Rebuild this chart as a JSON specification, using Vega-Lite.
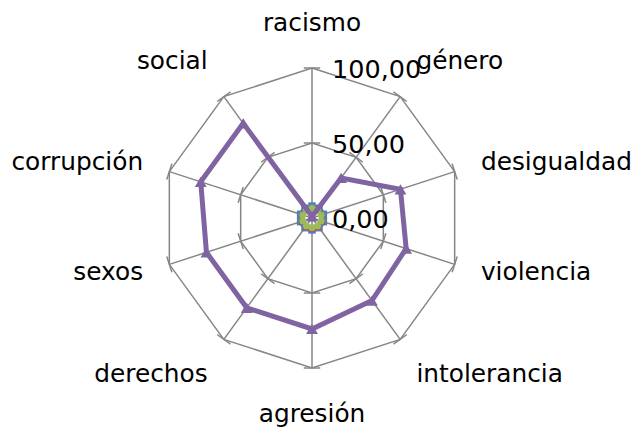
{
  "$schema": "https://vega.github.io/schema/vega-lite/v6.json",
  "width": 635,
  "height": 430,
  "autosize": {"type": "none"},
  "padding": 0,
  "background": "white",
  "config": {"view": {"stroke": null}, "font": "DejaVu Sans"},
  "datasets": {
    "cats": [
      {"idx": 0, "cat": "racismo"},
      {"idx": 1, "cat": "género"},
      {"idx": 2, "cat": "desigualdad"},
      {"idx": 3, "cat": "violencia"},
      {"idx": 4, "cat": "intolerancia"},
      {"idx": 5, "cat": "agresión"},
      {"idx": 6, "cat": "derechos"},
      {"idx": 7, "cat": "sexos"},
      {"idx": 8, "cat": "corrupción"},
      {"idx": 9, "cat": "social"}
    ],
    "ticks": [{"v": 0}, {"v": 50}, {"v": 100}],
    "series": [
      {"serie": "Serie1", "idx": 0, "cat": "racismo", "valor": 8},
      {"serie": "Serie1", "idx": 1, "cat": "género", "valor": 8},
      {"serie": "Serie1", "idx": 2, "cat": "desigualdad", "valor": 8},
      {"serie": "Serie1", "idx": 3, "cat": "violencia", "valor": 8},
      {"serie": "Serie1", "idx": 4, "cat": "intolerancia", "valor": 8},
      {"serie": "Serie1", "idx": 5, "cat": "agresión", "valor": 8},
      {"serie": "Serie1", "idx": 6, "cat": "derechos", "valor": 8},
      {"serie": "Serie1", "idx": 7, "cat": "sexos", "valor": 8},
      {"serie": "Serie1", "idx": 8, "cat": "corrupción", "valor": 8},
      {"serie": "Serie1", "idx": 9, "cat": "social", "valor": 8},
      {"serie": "Serie2", "idx": 0, "cat": "racismo", "valor": 7.5},
      {"serie": "Serie2", "idx": 1, "cat": "género", "valor": 7.5},
      {"serie": "Serie2", "idx": 2, "cat": "desigualdad", "valor": 7.5},
      {"serie": "Serie2", "idx": 3, "cat": "violencia", "valor": 7.5},
      {"serie": "Serie2", "idx": 4, "cat": "intolerancia", "valor": 7.5},
      {"serie": "Serie2", "idx": 5, "cat": "agresión", "valor": 7.5},
      {"serie": "Serie2", "idx": 6, "cat": "derechos", "valor": 7.5},
      {"serie": "Serie2", "idx": 7, "cat": "sexos", "valor": 7.5},
      {"serie": "Serie2", "idx": 8, "cat": "corrupción", "valor": 7.5},
      {"serie": "Serie2", "idx": 9, "cat": "social", "valor": 7.5},
      {"serie": "Serie3", "idx": 0, "cat": "racismo", "valor": 6.5},
      {"serie": "Serie3", "idx": 1, "cat": "género", "valor": 6.5},
      {"serie": "Serie3", "idx": 2, "cat": "desigualdad", "valor": 6.5},
      {"serie": "Serie3", "idx": 3, "cat": "violencia", "valor": 6.5},
      {"serie": "Serie3", "idx": 4, "cat": "intolerancia", "valor": 6.5},
      {"serie": "Serie3", "idx": 5, "cat": "agresión", "valor": 6.5},
      {"serie": "Serie3", "idx": 6, "cat": "derechos", "valor": 6.5},
      {"serie": "Serie3", "idx": 7, "cat": "sexos", "valor": 6.5},
      {"serie": "Serie3", "idx": 8, "cat": "corrupción", "valor": 6.5},
      {"serie": "Serie3", "idx": 9, "cat": "social", "valor": 6.5},
      {"serie": "Serie4", "idx": 0, "cat": "racismo", "valor": 1},
      {"serie": "Serie4", "idx": 1, "cat": "género", "valor": 33},
      {"serie": "Serie4", "idx": 2, "cat": "desigualdad", "valor": 62},
      {"serie": "Serie4", "idx": 3, "cat": "violencia", "valor": 66},
      {"serie": "Serie4", "idx": 4, "cat": "intolerancia", "valor": 68},
      {"serie": "Serie4", "idx": 5, "cat": "agresión", "valor": 74},
      {"serie": "Serie4", "idx": 6, "cat": "derechos", "valor": 74},
      {"serie": "Serie4", "idx": 7, "cat": "sexos", "valor": 74},
      {"serie": "Serie4", "idx": 8, "cat": "corrupción", "valor": 78},
      {"serie": "Serie4", "idx": 9, "cat": "social", "valor": 78}
    ]
  },
  "encoding": {
    "x": {"type": "quantitative", "scale": {"domain": [-208, 215.333], "nice": false, "zero": false}, "axis": null},
    "y": {"type": "quantitative", "scale": {"domain": [-141.333, 145.333], "nice": false, "zero": false}, "axis": null}
  },
  "layer": [
    {
      "data": {"name": "cats"},
      "transform": [
        {"calculate": "datum.idx * PI / 5", "as": "a"},
        {"calculate": "0", "as": "x0"},
        {"calculate": "0", "as": "y0"},
        {"calculate": "100 * sin(datum.a)", "as": "xe"},
        {"calculate": "100 * cos(datum.a)", "as": "ye"}
      ],
      "mark": {"type": "rule", "color": "#868686", "strokeWidth": 1.5},
      "encoding": {
        "x": {"field": "x0", "type": "quantitative"},
        "y": {"field": "y0", "type": "quantitative"},
        "x2": {"field": "xe"},
        "y2": {"field": "ye"}
      }
    },
    {
      "data": {"name": "cats"},
      "transform": [
        {"calculate": "datum.idx * PI / 5", "as": "a"},
        {"calculate": "[50, 100]", "as": "r"},
        {"flatten": ["r"]},
        {"calculate": "datum.r * sin(datum.a)", "as": "px"},
        {"calculate": "datum.r * cos(datum.a)", "as": "py"}
      ],
      "mark": {"type": "line", "color": "#868686", "strokeWidth": 1.5, "interpolate": "linear-closed"},
      "encoding": {
        "x": {"field": "px", "type": "quantitative"},
        "y": {"field": "py", "type": "quantitative"},
        "detail": {"field": "r"},
        "order": {"field": "idx"}
      }
    },
    {
      "data": {"name": "cats"},
      "transform": [
        {"calculate": "datum.idx * PI / 5", "as": "a"},
        {"calculate": "[50, 100]", "as": "r"},
        {"flatten": ["r"]},
        {"calculate": "datum.r * sin(datum.a) + 5.5 * cos(datum.a)", "as": "tx1"},
        {"calculate": "datum.r * cos(datum.a) - 5.5 * sin(datum.a)", "as": "ty1"},
        {"calculate": "datum.r * sin(datum.a) - 5.5 * cos(datum.a)", "as": "tx2"},
        {"calculate": "datum.r * cos(datum.a) + 5.5 * sin(datum.a)", "as": "ty2"}
      ],
      "mark": {"type": "rule", "color": "#868686", "strokeWidth": 1.5},
      "encoding": {
        "x": {"field": "tx1", "type": "quantitative"},
        "y": {"field": "ty1", "type": "quantitative"},
        "x2": {"field": "tx2"},
        "y2": {"field": "ty2"}
      }
    },
    {
      "data": {"name": "series"},
      "transform": [
        {"filter": "datum.serie != 'Serie4'"},
        {"calculate": "datum.idx * PI / 5", "as": "a"},
        {"calculate": "datum.valor * sin(datum.a)", "as": "px"},
        {"calculate": "datum.valor * cos(datum.a)", "as": "py"}
      ],
      "layer": [
        {
          "mark": {"type": "line", "strokeWidth": 5, "interpolate": "linear-closed"},
          "encoding": {
            "x": {"field": "px", "type": "quantitative"},
            "y": {"field": "py", "type": "quantitative"},
            "detail": {"field": "serie"},
            "order": {"field": "idx"},
            "color": {"field": "serie", "type": "nominal", "scale": {"domain": ["Serie1", "Serie2", "Serie3", "Serie4"], "range": ["#4F81BD", "#C0504D", "#9BBB59", "#8064A2"]}, "legend": null}
          }
        },
        {
          "mark": {"type": "point", "filled": true, "opacity": 1},
          "encoding": {
            "x": {"field": "px", "type": "quantitative"},
            "y": {"field": "py", "type": "quantitative"},
            "size": {"field": "serie", "type": "nominal", "scale": {"domain": ["Serie1", "Serie2", "Serie3"], "range": [55, 45, 90]}, "legend": null},
            "shape": {"field": "serie", "type": "nominal", "scale": {"domain": ["Serie1", "Serie2", "Serie3"], "range": ["square", "triangle-up", "circle"]}, "legend": null},
            "color": {"field": "serie", "type": "nominal", "scale": {"domain": ["Serie1", "Serie2", "Serie3", "Serie4"], "range": ["#4F81BD", "#C0504D", "#9BBB59", "#8064A2"]}, "legend": null}
          }
        }
      ]
    },
    {
      "data": {"name": "series"},
      "transform": [
        {"filter": "datum.serie == 'Serie4'"},
        {"calculate": "datum.idx * PI / 5", "as": "a"},
        {"calculate": "datum.valor * sin(datum.a)", "as": "px"},
        {"calculate": "datum.valor * cos(datum.a)", "as": "py"}
      ],
      "layer": [
        {
          "mark": {"type": "line", "strokeWidth": 5, "color": "#8064A2", "interpolate": "linear-closed", "strokeJoin": "miter"},
          "encoding": {
            "x": {"field": "px", "type": "quantitative"},
            "y": {"field": "py", "type": "quantitative"},
            "order": {"field": "idx"}
          }
        },
        {
          "mark": {"type": "point", "shape": "triangle-up", "filled": true, "opacity": 1, "size": 140, "color": "#8064A2"},
          "encoding": {
            "x": {"field": "px", "type": "quantitative"},
            "y": {"field": "py", "type": "quantitative"}
          }
        }
      ]
    },
    {
      "data": {"name": "cats"},
      "transform": [
        {"calculate": "datum.idx * PI / 5", "as": "a"},
        {"calculate": "118.4 * sin(datum.a)", "as": "lx"},
        {"calculate": "118.4 * cos(datum.a)", "as": "ly"}
      ],
      "mark": {
        "type": "text",
        "fontSize": 24.8,
        "font": "DejaVu Sans",
        "color": "#000000",
        "align": {"expr": "datum.idx == 0 || datum.idx == 5 ? 'center' : (datum.idx < 5 ? 'left' : 'right')"},
        "baseline": {"expr": "(datum.idx <= 1 || datum.idx == 9) ? 'bottom' : ((datum.idx >= 4 && datum.idx <= 6) ? 'top' : 'middle')"},
        "dy": {"expr": "datum.idx == 0 ? -4 : (datum.idx == 5 ? 6 : 0)"}
      },
      "encoding": {
        "x": {"field": "lx", "type": "quantitative"},
        "y": {"field": "ly", "type": "quantitative"},
        "text": {"field": "cat"}
      }
    },
    {
      "data": {"name": "ticks"},
      "transform": [
        {"calculate": "replace(format(datum.v, '.2f'), '.', ',')", "as": "lab"},
        {"calculate": "0", "as": "x0"}
      ],
      "mark": {"type": "text", "fontSize": 25.5, "font": "DejaVu Sans", "color": "#000000", "align": "left", "baseline": "middle", "dx": 20, "dy": 2},
      "encoding": {
        "x": {"field": "x0", "type": "quantitative"},
        "y": {"field": "v", "type": "quantitative"},
        "text": {"field": "lab"}
      }
    }
  ]
}
